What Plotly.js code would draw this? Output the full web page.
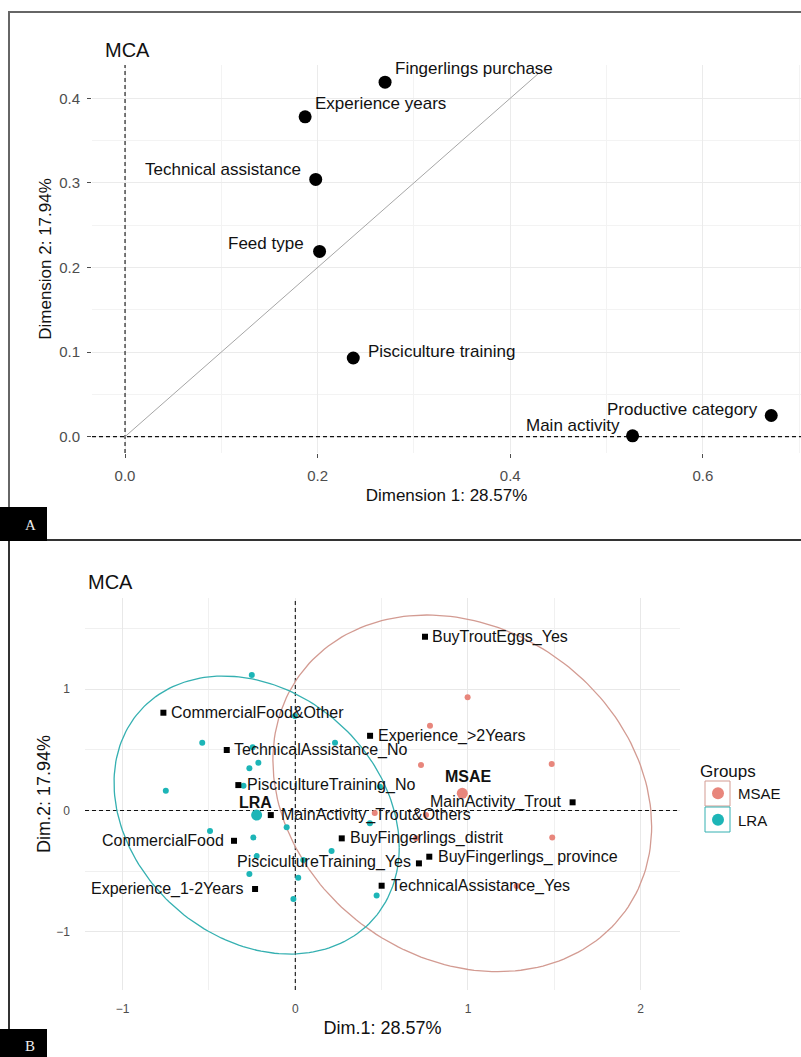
<!DOCTYPE html>
<html><head><meta charset="utf-8">
<script src="https://cdn.plot.ly/plotly-3.0.1.min.js"></script>
<style>html,body{margin:0;padding:0;background:#fff}#chart{width:801px;height:1057px}</style>
</head><body><div id="chart"></div>
<script>
// ---------- Panel A: variables ----------
const varNames = ["Fingerlings purchase","Experience years","Technical assistance","Feed type","Pisciculture training","Main activity","Productive category"];
const varDim1 = [0.270, 0.187, 0.198, 0.202, 0.237, 0.527, 0.671];
const varDim2 = [0.419, 0.378, 0.304, 0.219, 0.093, 0.001, 0.025];
const diagX = [0, 0.43];
const diagY = [0, 0.43];
const titleA = "MCA";
const xTitleA = "Dimension 1: 28.57%";
const yTitleA = "Dimension 2: 17.94%";

// ---------- Panel B: categories ----------
const catNames = ["BuyTroutEggs_Yes","CommercialFood&Other","TechnicalAssistance_No","Experience_>2Years","PiscicultureTraining_No","MainActivity_Trout&Others","MainActivity_Trout","CommercialFood","BuyFingerlings_distrit","PiscicultureTraining_Yes","BuyFingerlings_ province","TechnicalAssistance_Yes","Experience_1-2Years"];
const catDim1 = [0.751, -0.764, -0.397, 0.433, -0.330, -0.142, 1.606, -0.355, 0.269, 0.716, 0.776, 0.500, -0.233];
const catDim2 = [1.431, 0.805, 0.498, 0.615, 0.209, -0.038, 0.067, -0.250, -0.230, -0.436, -0.381, -0.620, -0.647];

// individuals
const msaeDim1 = [0.998, 0.780, 0.728, 1.485, 0.757, 1.488, 1.282, 0.460, 0.700];
const msaeDim2 = [0.932, 0.698, 0.374, 0.382, -0.038, -0.222, -0.623, -0.020, -0.230];
const lraDim1 = [-0.252, -0.002, -0.539, -0.247, 0.230, -0.214, -0.266, -0.750, -0.300, 0.490, -0.050, -0.494, -0.243, -0.224, -0.266, 0.017, -0.011, 0.210, 0.432, 0.471, 0.046];
const lraDim2 = [1.115, 0.778, 0.558, 0.520, 0.558, 0.393, 0.347, 0.162, 0.203, 0.195, -0.139, -0.170, -0.222, -0.376, -0.524, -0.554, -0.730, -0.334, -0.106, -0.700, -0.409];

const groupNames = ["MSAE", "LRA"];
const centroidDim1 = [0.967, -0.224];
const centroidDim2 = [0.141, -0.038];
// ellipse covariance-like parameters (per group)
const ellipseSxx = [1.203, 0.682];
const ellipseSyy = [2.158, 1.311];
const ellipseSxy = [-0.300, -0.220];
const titleB = "MCA";
const xTitleB = "Dim.1: 28.57%";
const yTitleB = "Dim.2: 17.94%";
const legendTitle = "Groups";

// axis ranges
const xRangeA = [-0.0343, 0.7019], yRangeA = [-0.0193, 0.4393];
const xRangeB = [-1.218, 2.228], yRangeB = [-1.479, 1.750];

// ---------- styles (not data) ----------
const FONT = "Liberation Sans, Arial, sans-serif";
const grpPointColor = ["#e8867c", "#1db5b7"];
const grpLineColor = ["#d39b92", "#35b0b1"];
// label placement offsets in px [anchor, dx, dy]
const varLabelPos = [["left",8,14],["left",8,13],["right",-13,10],["right",-14,8],["left",13,6],["right",-11,10],["right",-11,6]];
const catLabelPos = [["left",5,0],["left",6,0],["left",5,0],["left",6,0],["left",7,0],["left",8,0],["right",-9,0],["right",-8,0],["left",6,0],["right",-6,1],["left",7,0],["left",7,0],["right",-10,0]];
const centroidLabelPos = [[6,17],[-1,13]];

function ellipsePath(cx, cy, sxx, syy, sxy) {
  const l11 = Math.sqrt(sxx), l21 = sxy / l11, l22 = Math.sqrt(syy - l21 * l21);
  const xs = [], ys = [];
  for (let i = 0; i <= 200; i++) {
    const t = 2 * Math.PI * i / 200;
    xs.push(cx + l11 * Math.cos(t));
    ys.push(cy + l21 * Math.cos(t) + l22 * Math.sin(t));
  }
  return [xs, ys];
}

const dashLine = {color: "#111", width: 1.1, dash: "4px,3px"};
const traces = [];
// reference zero lines (drawn first, under marks)
traces.push({x: [0, 0], y: yRangeA, xaxis: "x", yaxis: "y", mode: "lines", line: dashLine, showlegend: false, hoverinfo: "skip", cliponaxis: false});
traces.push({x: xRangeA, y: [0, 0], xaxis: "x", yaxis: "y", mode: "lines", line: dashLine, showlegend: false, hoverinfo: "skip"});
traces.push({x: [0, 0], y: yRangeB, xaxis: "x2", yaxis: "y2", mode: "lines", line: dashLine, showlegend: false, hoverinfo: "skip"});
traces.push({x: xRangeB, y: [0, 0], xaxis: "x2", yaxis: "y2", mode: "lines", line: dashLine, showlegend: false, hoverinfo: "skip"});
// Panel A
traces.push({x: diagX, y: diagY, xaxis: "x", yaxis: "y", mode: "lines", line: {color: "#a6a6a6", width: 1}, showlegend: false, hoverinfo: "skip"});
traces.push({x: varDim1, y: varDim2, xaxis: "x", yaxis: "y", mode: "markers", marker: {color: "#000", size: 13}, showlegend: false, text: varNames});

// Panel B ellipses
for (let g = 0; g < 2; g++) {
  const [ex, ey] = ellipsePath(centroidDim1[g], centroidDim2[g], ellipseSxx[g], ellipseSyy[g], ellipseSxy[g]);
  traces.push({x: ex, y: ey, xaxis: "x2", yaxis: "y2", mode: "lines", line: {color: grpLineColor[g], width: 1.3}, showlegend: false, hoverinfo: "skip"});
}
// individuals
traces.push({x: msaeDim1, y: msaeDim2, xaxis: "x2", yaxis: "y2", mode: "markers", name: groupNames[0], legendgroup: "g1", marker: {color: grpPointColor[0], size: 6}});
traces.push({x: lraDim1, y: lraDim2, xaxis: "x2", yaxis: "y2", mode: "markers", name: groupNames[1], legendgroup: "g2", marker: {color: grpPointColor[1], size: 6}});
// centroids
for (let g = 0; g < 2; g++) {
  traces.push({x: [centroidDim1[g]], y: [centroidDim2[g]], xaxis: "x2", yaxis: "y2", mode: "markers", marker: {color: grpPointColor[g], size: 11}, showlegend: false});
}
// categories
traces.push({x: catDim1, y: catDim2, xaxis: "x2", yaxis: "y2", mode: "markers", marker: {color: "#000", size: 6, symbol: "square"}, showlegend: false, text: catNames});

const annotations = [];
varNames.forEach((n, i) => {
  const p = varLabelPos[i];
  annotations.push({xref: "x", yref: "y", x: varDim1[i], y: varDim2[i], text: n, showarrow: false, xanchor: p[0], yanchor: "middle", xshift: p[1], yshift: p[2], font: {family: FONT, size: 17, color: "#111"}});
});
catNames.forEach((n, i) => {
  const p = catLabelPos[i];
  annotations.push({xref: "x2", yref: "y2", x: catDim1[i], y: catDim2[i], text: n, showarrow: false, xanchor: p[0], yanchor: "middle", xshift: p[1], yshift: p[2], font: {family: FONT, size: 16, color: "#111"}});
});
groupNames.forEach((n, g) => {
  annotations.push({xref: "x2", yref: "y2", x: centroidDim1[g], y: centroidDim2[g], text: "<b>" + n + "</b>", showarrow: false, xanchor: "center", yanchor: "middle", xshift: centroidLabelPos[g][0], yshift: centroidLabelPos[g][1], font: {family: FONT, size: 16, color: "#111"}});
});
const H = 1057, W = 801;
const py = v => 1 - v / H, px = v => v / W;
annotations.push({xref: "paper", yref: "paper", x: px(103), y: py(50), text: titleA, showarrow: false, xanchor: "left", yanchor: "middle", font: {family: FONT, size: 20, color: "#111"}});
annotations.push({xref: "paper", yref: "paper", x: px(86), y: py(582), text: titleB, showarrow: false, xanchor: "left", yanchor: "middle", font: {family: FONT, size: 20, color: "#111"}});
annotations.push({xref: "paper", yref: "paper", x: px(31), y: py(525), text: "A", showarrow: false, xanchor: "center", yanchor: "middle", font: {family: "Liberation Serif, Times New Roman, serif", size: 15, color: "#eee"}});
annotations.push({xref: "paper", yref: "paper", x: px(30), y: py(1046), text: "B", showarrow: false, xanchor: "center", yanchor: "middle", font: {family: "Liberation Serif, Times New Roman, serif", size: 15, color: "#eee"}});

const shapes = [
  // panel frames
  {type: "rect", xref: "paper", yref: "paper", x0: px(9), x1: px(803), y0: py(540), y1: py(12), line: {color: "#666", width: 2}, layer: "above"},
  {type: "rect", xref: "paper", yref: "paper", x0: px(9), x1: px(803), y0: py(1060), y1: py(540), line: {color: "#333", width: 2}, layer: "above"},
  // label boxes
  {type: "rect", xref: "paper", yref: "paper", x0: 0, x1: px(47), y0: py(541), y1: py(507), fillcolor: "#000", line: {width: 0}, layer: "above"},
  {type: "rect", xref: "paper", yref: "paper", x0: 0, x1: px(47), y0: 0, y1: py(1029), fillcolor: "#000", line: {width: 0}, layer: "above"},
  // legend key boxes
  {type: "rect", xref: "paper", yref: "paper", x0: px(705), x1: px(730), y0: py(806), y1: py(781), line: {color: grpLineColor[0], width: 1}, layer: "below"},
  {type: "rect", xref: "paper", yref: "paper", x0: px(705), x1: px(730), y0: py(832), y1: py(807), line: {color: grpLineColor[1], width: 1}, layer: "below"}
];

const tickGray = "#4d4d4d";
const layout = {
  width: W, height: H, autosize: false,
  margin: {l: 0, r: 0, t: 0, b: 0},
  paper_bgcolor: "#fff", plot_bgcolor: "#fff",
  font: {family: FONT, color: "#111"},
  showlegend: true,
  legend: {x: px(698), xanchor: "left", y: py(755), yanchor: "top", title: {text: legendTitle, font: {size: 17, family: FONT}}, font: {size: 15, family: FONT}, traceorder: "grouped", tracegroupgap: 4, itemsizing: "constant", bgcolor: "rgba(0,0,0,0)"},
  xaxis: {domain: [px(92), 1], range: xRangeA, anchor: "y", dtick: 0.2, tick0: 0, tickformat: ".1f",
    showgrid: true, gridcolor: "#ebebeb", gridwidth: 1, minor: {dtick: 0.1, showgrid: true, gridcolor: "#f3f3f3"},
    zeroline: false, showline: false, ticks: "outside", ticklen: 4, tickcolor: tickGray, ticklabelstandoff: 5,
    tickfont: {size: 15, color: tickGray}, title: {text: xTitleA, font: {size: 17, color: "#111"}, standoff: 6}},
  yaxis: {domain: [py(453), py(65)], range: yRangeA, anchor: "x", dtick: 0.1, tick0: 0, tickformat: ".1f",
    showgrid: true, gridcolor: "#ebebeb", minor: {dtick: 0.05, showgrid: true, gridcolor: "#f3f3f3"},
    zeroline: false, showline: false, ticks: "outside", ticklen: 4, tickcolor: tickGray, ticklabelstandoff: 4,
    tickfont: {size: 15, color: tickGray}, title: {text: yTitleA, font: {size: 17, color: "#111"}, standoff: 3}},
  xaxis2: {domain: [px(85), px(680)], range: xRangeB, anchor: "y2", dtick: 1, tick0: 0,
    showgrid: true, gridcolor: "#e8e8e8", minor: {dtick: 0.5, showgrid: true, gridcolor: "#f0f0f0"},
    zeroline: false, showline: false, ticks: "", ticklabelstandoff: 10,
    tickfont: {size: 12, color: tickGray}, title: {text: xTitleB, font: {size: 18, color: "#111"}, standoff: 6}},
  yaxis2: {domain: [py(990), py(598)], range: yRangeB, anchor: "x2", dtick: 1, tick0: 0,
    showgrid: true, gridcolor: "#e8e8e8", minor: {dtick: 0.5, showgrid: true, gridcolor: "#f0f0f0"},
    zeroline: false, showline: false, ticks: "", ticklabelstandoff: 14,
    tickfont: {size: 12, color: tickGray}, title: {text: yTitleB, font: {size: 18, color: "#111"}, standoff: 1}},
  annotations: annotations,
  shapes: shapes
};

Plotly.newPlot("chart", traces, layout, {staticPlot: true, displayModeBar: false});
</script>
</body></html>
